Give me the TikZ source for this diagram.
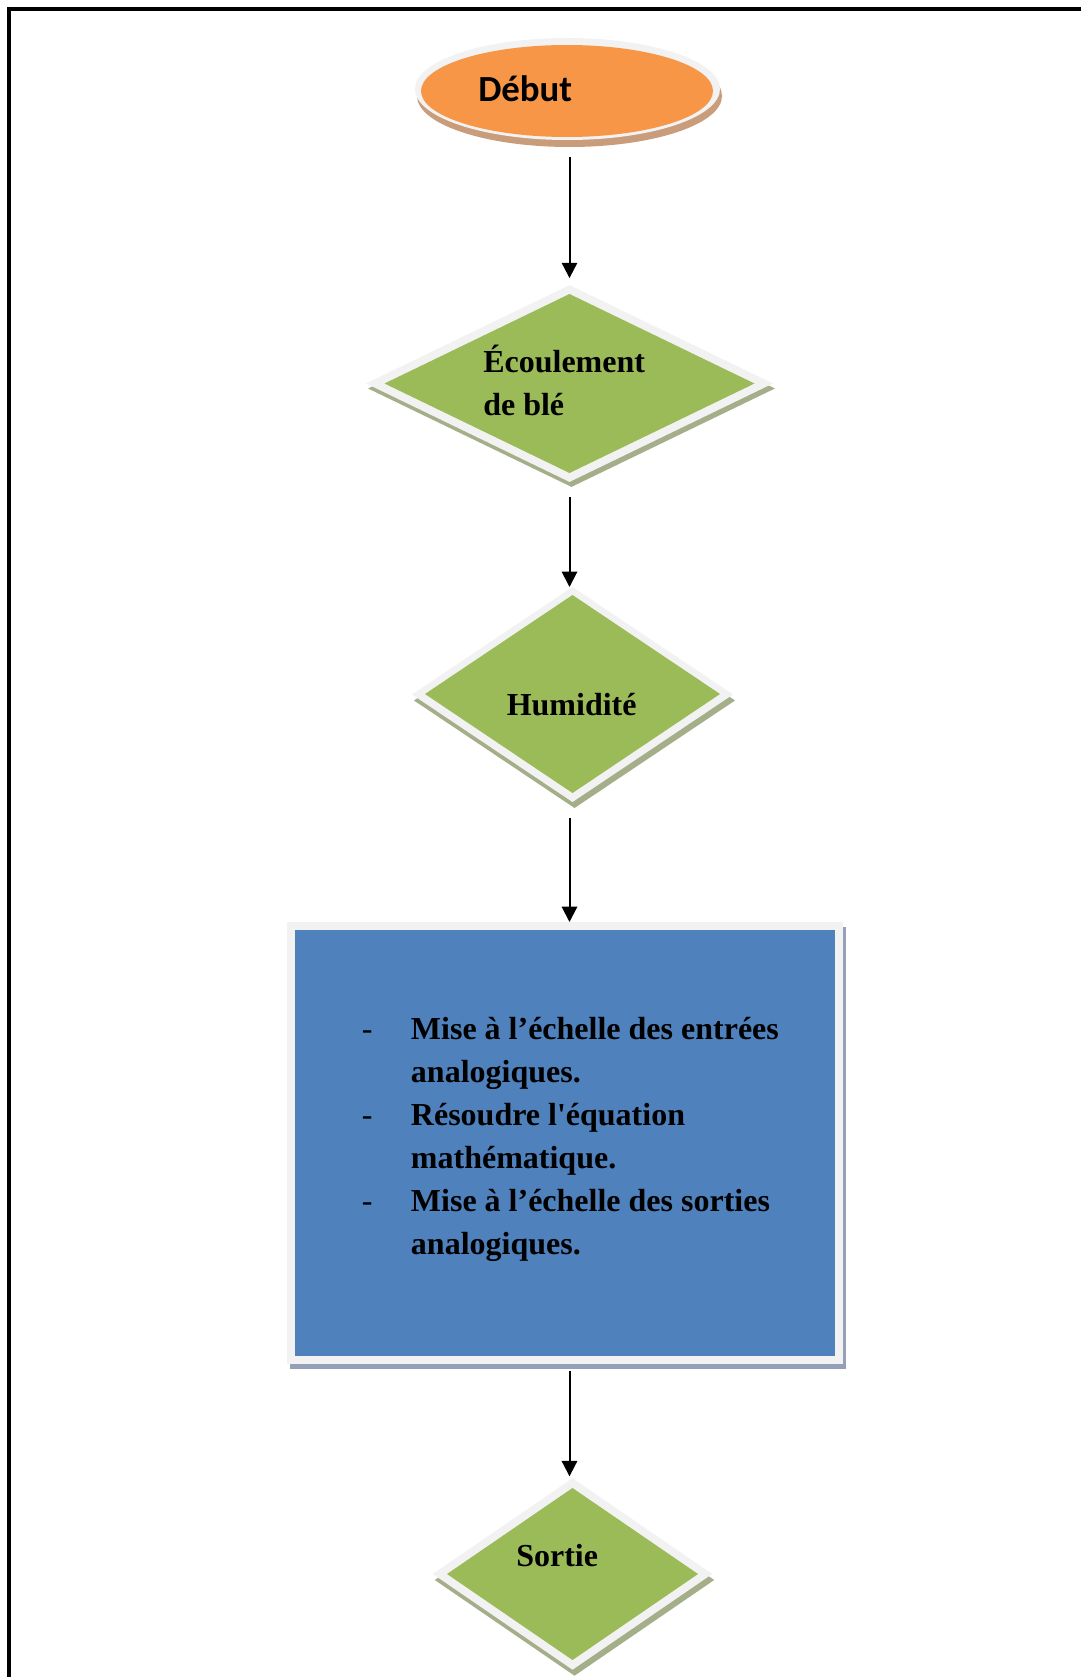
\documentclass[tikz,border=0pt]{standalone}
\usepackage{fontspec}
\usetikzlibrary{shapes.geometric,arrows.meta}

\newfontfamily\labelfont{Liberation Serif}
\newfontfamily\startfont{Carlito}

\definecolor{startorange}{HTML}{F79646}
\definecolor{startshade}{HTML}{C99D7C}
\definecolor{testgreen}{HTML}{9BBB59}
\definecolor{testshade}{HTML}{A4AF8A}
\definecolor{procblue}{HTML}{4F81BD}
\definecolor{procshade}{HTML}{95A0B8}
\definecolor{rimgray}{HTML}{F2F2F2}

% one unit = one pixel of a 1081 x 1677 sheet
\newcommand{\pxl}{0.75pt}

\begin{document}
\begin{tikzpicture}[x=0.75pt, y=-0.75pt,
  plain/.style={inner sep=0pt, outer sep=0pt, draw=none},
  oval/.style={plain, ellipse},
  test/.style={plain, diamond},
  block/.style={plain, rectangle},
  lbl/.style={inner sep=0pt, anchor=base west,
    font=\labelfont\bfseries\fontsize{24}{32.25}\selectfont},
  flow/.style={line width=1.5pt, -{Triangle[width=11.5pt,length=11.5pt]}}]

\useasboundingbox (0,0) rectangle (1081,1677);
\fill[white] (0,0) rectangle (1081,1677);

% page frame
\draw[line width=3pt] (9,1677) -- (9,9) -- (1081,9);

% start terminal
\node[oval, fill=startshade, minimum width=305*\pxl, minimum height=102*\pxl] (startsh) at (569.5,96) {};
\node[oval, fill=rimgray, minimum width=305*\pxl, minimum height=102*\pxl] (start) at (567.5,89) {};
\node[oval, fill=startorange, minimum width=292*\pxl, minimum height=92*\pxl] (startin) at (567,91) {};
\node[inner sep=0pt, anchor=base west, font=\startfont\bfseries\fontsize{27.6}{33}\selectfont] (startlbl) at (478,101.7) {Début};

% first test: grain flow
\node[test, fill=testshade, minimum width=406.8*\pxl, minimum height=196.8*\pxl] (d1sh) at (571.5,388.5) {};
\node[test, fill=rimgray, minimum width=406.8*\pxl, minimum height=196.8*\pxl] (d1) at (569.5,383.5) {};
\node[test, fill=testgreen, minimum width=370*\pxl, minimum height=179*\pxl] (d1in) at (569.5,383.5) {};
\node[lbl] (d1lbl) at (483,372) {\begin{tabular}[t]{@{}l@{}}Écoulement\\de blé\end{tabular}};

% second test: moisture
\node[test, fill=testshade, minimum width=321*\pxl, minimum height=215*\pxl] (d2sh) at (574.5,700.5) {};
\node[test, fill=rimgray, minimum width=321*\pxl, minimum height=215*\pxl] (d2) at (572.5,694.5) {};
\node[test, fill=testgreen, minimum width=295*\pxl, minimum height=198*\pxl] (d2in) at (572.5,694) {};
\node[lbl] (d2lbl) at (506.5,715) {Humidité};

% processing block
\node[block, fill=procshade, minimum width=556*\pxl, minimum height=442*\pxl] (procsh) at (567.7,1148) {};
\node[block, fill=rimgray, minimum width=556*\pxl, minimum height=442*\pxl] (proc) at (564.7,1143) {};
\node[block, fill=procblue, minimum width=540*\pxl, minimum height=426*\pxl] (procin) at (565,1143) {};
\node[lbl] (proclbl) at (361.5,1039) {%
  \begin{tabular}[t]{@{}p{36.9pt}@{}l@{}}
  {\mdseries -} & Mise à l’échelle des entrées\\
   & analogiques.\\
  {\mdseries -} & Résoudre l'équation\\
   & mathématique.\\
  {\mdseries -} & Mise à l’échelle des sorties\\
   & analogiques.
  \end{tabular}};

% output test
\node[test, fill=testshade, minimum width=279.4*\pxl, minimum height=191.4*\pxl] (d3sh) at (574.5,1580) {};
\node[test, fill=rimgray, minimum width=279.4*\pxl, minimum height=191.4*\pxl] (d3) at (572.5,1574) {};
\node[test, fill=testgreen, minimum width=251*\pxl, minimum height=172*\pxl] (d3in) at (572.5,1574) {};
\node[lbl] (d3lbl) at (516,1566) {Sortie};

% connectors
\draw[flow, shorten <=12.4pt, shorten >=5.25pt] (start.south -| d1.north) -- (d1.north);
\draw[flow, shorten <=11.3pt] (d1.south) -- (d1.south |- d2.north);
\draw[flow, shorten <=12pt] (d2.south -| d1.south) -- (proc.north -| d1.south);
\draw[flow, shorten <=5.25pt, shorten >=1.5pt] (proc.south -| d1.south) -- (d3.north -| d1.south);

\end{tikzpicture}
\end{document}
